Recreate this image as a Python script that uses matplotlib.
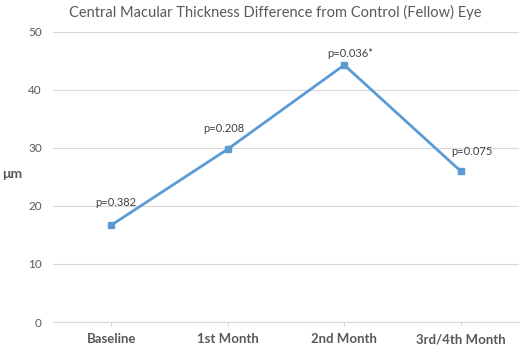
import matplotlib
matplotlib.use('Agg')
import matplotlib.pyplot as plt

# data
categories = ['Baseline', '1st Month', '2nd Month', '3rd/4th Month']
thickness_diff = [16.7, 29.8, 44.3, 26.0]
p_labels = ['p=0.382', 'p=0.208', 'p=0.036*', 'p=0.075']
y_ticks = [0, 10, 20, 30, 40, 50]

plt.rcParams['font.family'] = ['Lato', 'DejaVu Sans']
text_gray = '#595959'
grid_gray = '#d9d9d9'
blue = '#5b9bd5'

fig = plt.figure(figsize=(5.2, 3.47), dpi=100)
ax = fig.add_axes([0.102, 0.072, 0.896, 0.836])

x = list(range(len(categories)))
ax.plot(x, thickness_diff, color=blue, linewidth=2.0, marker='s', markersize=5,
        zorder=3)

# label placements (points) as in the reference
label_offsets = [(3, 16.5), (-3, 14.5), (4, 8.5), (8, 14.5)]
for xi, yi, lab, off in zip(x, thickness_diff, p_labels, label_offsets):
    ax.annotate(lab, (xi, yi), xytext=off, textcoords='offset points',
                ha='center', va='center', fontsize=8, color='#404040')

ax.set_xlim(-0.5, len(categories) - 0.5)
ax.set_ylim(0, 50)
ax.set_yticks(y_ticks)
ax.set_xticks(x)
ax.set_xticklabels(categories, fontsize=9.5, fontweight='bold', color=text_gray)
ax.tick_params(axis='y', length=0, labelsize=8.5, labelcolor=text_gray, pad=8)
ax.tick_params(axis='x', length=3, color=grid_gray, pad=5)
ax.yaxis.grid(True, color=grid_gray, linewidth=0.8)
ax.set_axisbelow(True)
for side in ['top', 'right', 'left']:
    ax.spines[side].set_visible(False)
ax.spines['bottom'].set_color(grid_gray)

fig.text(0.004, 0.50, 'μm', fontsize=10, fontweight='bold', color=text_gray,
         ha='left', va='center')
fig.suptitle('Central Macular Thickness Difference from Control (Fellow) Eye',
             x=0.53, y=0.985, fontsize=10.5, color=text_gray)

fig.savefig('out.png', dpi=100)
